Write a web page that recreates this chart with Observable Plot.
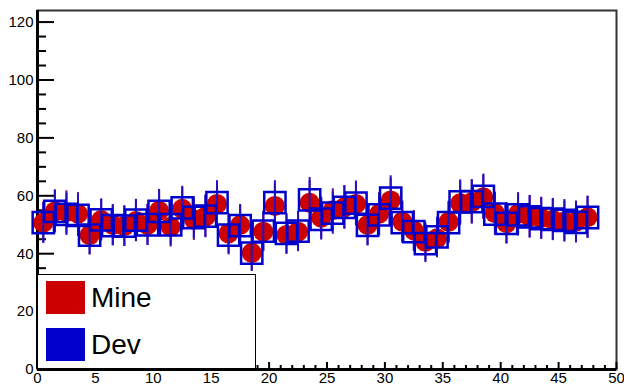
<!DOCTYPE html>
<html>
<head>
<meta charset="utf-8">
<script src="https://cdn.jsdelivr.net/npm/d3@7"></script>
<script src="https://cdn.jsdelivr.net/npm/@observablehq/plot@0.6"></script>
<style>
  html, body { margin: 0; padding: 0; background: white; }
  #wrap { position: relative; width: 624px; height: 392px; }
  #wrap svg, #wrap svg text { font-family: "Liberation Sans", Arial, sans-serif !important; }
  #legend { position: absolute; left: 37px; top: 274px; width: 217px; height: 93px;
            background: white; border: 1.5px solid black; font-family: "Liberation Sans", Arial, sans-serif; }
  .entry { position: absolute; left: 8px; display: flex; align-items: center; }
  .sw { width: 39px; height: 33px; margin-right: 6px; }
  .lab { font-size: 28px; line-height: 33px; color: black; }
</style>
</head>
<body>
<div id="wrap"></div>
<script>
// Data (bin centres and values)
const bins = [0.5,1.5,2.5,3.5,4.5,5.5,6.5,7.5,8.5,9.5,10.5,11.5,12.5,13.5,14.5,15.5,16.5,17.5,18.5,19.5,20.5,21.5,22.5,23.5,24.5,25.5,26.5,27.5,28.5,29.5,30.5,31.5,32.5,33.5,34.5,35.5,36.5,37.5,38.5,39.5,40.5,41.5,42.5,43.5,44.5,45.5,46.5,47.5];
const mine = [50.7,54.6,54.3,53.8,46.4,51.6,49.9,49.5,51.3,49.9,54.8,49.3,55.5,51.8,52.8,57.2,47.0,49.9,40.3,47.6,56.5,46.5,47.6,57.6,52.4,55.0,56.0,57.2,49.9,53.8,58.4,51.1,48.0,44.1,45.3,51.0,57.4,57.8,59.5,54.0,50.5,53.8,52.8,52.3,51.7,51.1,51.1,52.6];
const mineErr = [7.1,7.4,7.4,7.3,6.8,7.2,7.1,7.0,7.2,7.1,7.4,7.0,7.4,7.2,7.3,7.6,6.9,7.1,6.3,6.9,7.5,6.8,6.9,7.6,7.2,7.4,7.5,7.6,7.1,7.3,7.6,7.1,6.9,6.6,6.7,7.1,7.6,7.6,7.7,7.3,7.1,7.3,7.3,7.2,7.2,7.1,7.1,7.3];
const dev = [50.7,54.6,53.6,53.2,46.4,51.7,49.7,49.5,51.6,50.0,54.6,50.0,55.8,52.5,53.0,57.6,46.4,49.7,40.2,47.8,57.6,47.0,47.8,58.6,51.9,54.0,56.0,57.5,49.8,53.4,59.2,50.7,47.6,43.5,45.8,50.7,57.9,58.0,59.8,53.7,50.5,53.4,52.7,52.1,51.9,51.5,50.8,52.5];
const devErr = [7.1,7.4,7.3,7.3,6.8,7.2,7.0,7.0,7.2,7.1,7.4,7.1,7.5,7.2,7.3,7.6,6.8,7.0,6.3,6.9,7.6,6.9,6.9,7.7,7.2,7.3,7.5,7.6,7.1,7.3,7.7,7.1,6.9,6.6,6.8,7.1,7.6,7.6,7.7,7.3,7.1,7.3,7.3,7.2,7.2,7.2,7.1,7.2];
const seriesNames = ["Mine", "Dev"];
const seriesColors = ["#cc0000", "#0000cc"];
const xMajor = [0,5,10,15,20,25,30,35,40,45,50];
const xMinor = d3.range(0, 51).filter(v => v % 5 !== 0);
const yMajor = [0,20,40,60,80,100,120];
const yMinor = d3.range(0, 125, 5).filter(v => v % 20 !== 0);

const mineRows = bins.map((x, i) => ({x, y: mine[i], e: mineErr[i]}));
const devRows = bins.map((x, i) => ({x, y: dev[i], e: devErr[i]}));

const chart = Plot.plot({
  width: 624, height: 392,
  marginLeft: 37, marginRight: 8, marginTop: 10, marginBottom: 23,
  style: {fontSize: "15px", background: "white", color: "black"},
  x: {domain: [0, 50]},
  y: {domain: [0, 124]},
  marks: [
    Plot.frame({stroke: "#333", strokeWidth: 2}),
    // inward ticks
    Plot.axisY(yMajor, {tickSize: 17, dx: 17, fill: "none", stroke: "black", strokeWidth: 2, label: null}),
    Plot.axisY(yMinor, {tickSize: 9, dx: 9, fill: "none", stroke: "black", strokeWidth: 2, label: null}),
    Plot.axisY(yMajor, {tickSize: 0, tickPadding: 4, stroke: "none", fill: "black", label: null, fontSize: 15}),
    Plot.axisX(xMajor, {tickSize: 7, dy: -7, fill: "none", stroke: "black", strokeWidth: 2, label: null}),
    Plot.axisX(xMinor, {tickSize: 4, dy: -4, fill: "none", stroke: "black", strokeWidth: 2, label: null}),
    Plot.axisX(xMajor, {tickSize: 0, tickPadding: 3, stroke: "none", fill: "black", label: null, fontSize: 15}),
    Plot.ruleX([0], {strokeWidth: 3, stroke: "black"}),
    Plot.ruleY([0], {strokeWidth: 3, stroke: "black"}),
    // Mine
    Plot.ruleX(mineRows, {x: "x", y1: d => d.y - d.e, y2: d => d.y + d.e, stroke: "#5a0a8a", strokeWidth: 2}),
    Plot.dot(mineRows, {x: "x", y: "y", r: 10, fill: seriesColors[0], stroke: "none"}),
    // Dev
    Plot.ruleX(devRows, {x: "x", y1: d => d.y - d.e, y2: d => d.y + d.e, stroke: "#2412c0", strokeWidth: 2}),
    Plot.dot(devRows, {x: "x", y: "y", symbol: "square", r: 12, fill: "none", stroke: seriesColors[1], strokeWidth: 2.5})
  ]
});

const wrap = document.getElementById("wrap");
wrap.appendChild(chart);
const legend = document.createElement("div");
legend.id = "legend";
seriesNames.forEach((name, i) => {
  const e = document.createElement("div");
  e.className = "entry";
  e.style.top = (i === 0 ? 6 : 53) + "px";
  e.innerHTML = `<div class="sw" style="background:${seriesColors[i]}"></div><span class="lab">${name}</span>`;
  legend.appendChild(e);
});
wrap.appendChild(legend);
</script>
</body>
</html>
